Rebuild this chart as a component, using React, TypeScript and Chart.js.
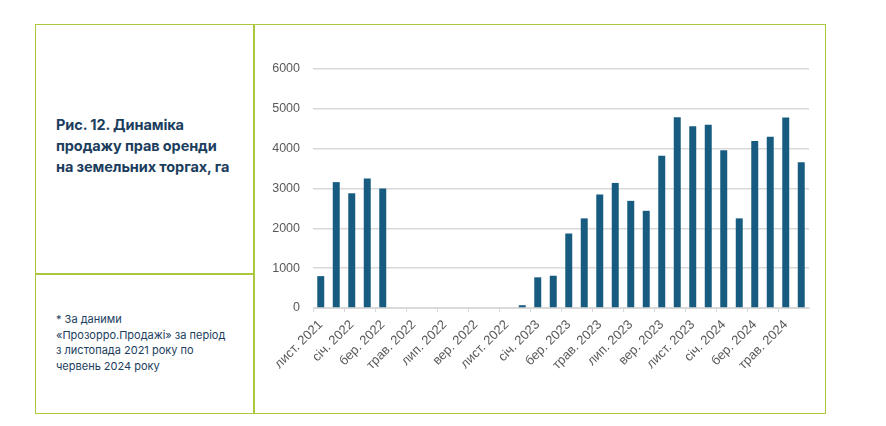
import { useEffect, useRef } from 'react'
import { Chart, registerables } from 'chart.js'

Chart.register(...registerables)

const months = [
  'лист. 2021', 'груд. 2021', 'січ. 2022', 'лют. 2022', 'бер. 2022', 'квіт. 2022',
  'трав. 2022', 'черв. 2022', 'лип. 2022', 'серп. 2022', 'вер. 2022', 'жовт. 2022',
  'лист. 2022', 'груд. 2022', 'січ. 2023', 'лют. 2023', 'бер. 2023', 'квіт. 2023',
  'трав. 2023', 'черв. 2023', 'лип. 2023', 'серп. 2023', 'вер. 2023', 'жовт. 2023',
  'лист. 2023', 'груд. 2023', 'січ. 2024', 'лют. 2024', 'бер. 2024', 'квіт. 2024',
  'трав. 2024', 'черв. 2024',
]

const hectares = [
  800, 3160, 2880, 3250, 3000, 0, 0, 0, 0, 0, 0, 0, 0, 70, 770, 810,
  1870, 2250, 2850, 3140, 2690, 2440, 3820, 4790, 4560, 4600, 3960, 2250,
  4190, 4300, 4780, 3660,
]

const yTicks = [0, 1000, 2000, 3000, 4000, 5000, 6000]

const GREEN = '#a9c83c'
const NAVY = '#1b3d5e'

function LeaseChart() {
  const canvasRef = useRef<HTMLCanvasElement>(null)
  const chartRef = useRef<Chart | null>(null)

  useEffect(() => {
    const canvas = canvasRef.current
    if (!canvas) return
    chartRef.current?.destroy()
    chartRef.current = new Chart(canvas, {
      type: 'bar',
      data: {
        labels: months,
        datasets: [{
          data: hectares,
          backgroundColor: '#175c80',
          borderWidth: 0,
          categoryPercentage: 1,
          barPercentage: 0.45,
        }],
      },
      options: {
        responsive: false,
        animation: false,
        layout: { padding: { left: 0, right: 17, top: 45, bottom: 6 } },
        plugins: { legend: { display: false }, tooltip: { enabled: false } },
        scales: {
          x: {
            afterFit: (s: any) => { s.height = 100 },
            border: { display: true, color: '#d9d9d9' },
            grid: {
              drawOnChartArea: false,
              drawTicks: true,
              tickLength: 4,
              color: (ctx: any) => (ctx.index % 2 === 0 ? '#d9d9d9' : 'rgba(0,0,0,0)'),
            },
            ticks: {
              autoSkip: false,
              maxRotation: 45,
              minRotation: 45,
              padding: 5,
              color: '#595959',
              font: { family: "'Liberation Sans', Arial, sans-serif", size: 13 },
              callback: (_v: any, i: number) => (i % 2 === 0 ? months[i] : ''),
            },
          },
          y: {
            min: yTicks[0],
            max: yTicks[yTicks.length - 1],
            afterFit: (s: any) => { s.width = 59 },
            afterBuildTicks: (s: any) => { s.ticks = yTicks.map((v) => ({ value: v })) },
            border: { display: false },
            grid: { color: '#d9d9d9', drawTicks: false, lineWidth: 1.5 },
            ticks: {
              padding: 13,
              color: '#595959',
              font: { family: "'Liberation Sans', Arial, sans-serif", size: 12.5 },
              callback: (v: any) => String(v),
            },
          },
        },
      },
    })
    return () => { chartRef.current?.destroy() }
  }, [])

  return <canvas ref={canvasRef} width={572} height={390} style={{ display: 'block' }} />
}

export default function App() {
  return (
    <div style={{ position: 'fixed', left: 0, top: 0, width: 886, height: 426, background: '#fff' }}>
      <div
        style={{
          position: 'absolute', left: 35, top: 24, width: 791, height: 390,
          border: `1.5px solid ${GREEN}`, boxSizing: 'border-box',
        }}
      />
      <div style={{ position: 'absolute', left: 253, top: 24, width: 1.5, height: 390, background: GREEN }} />
      <div style={{ position: 'absolute', left: 35, top: 273, width: 219, height: 1.5, background: GREEN }} />
      <div
        style={{
          position: 'absolute', left: 56, top: 114, width: 195,
          fontFamily: "Inter, 'Noto Sans', sans-serif", fontWeight: 700, fontSize: 14.5,
          lineHeight: '21px', color: NAVY, letterSpacing: -0.1,
        }}
      >
        Рис. 12. Динаміка<br />продажу прав оренди<br />на земельних торгах, га
      </div>
      <div
        style={{
          position: 'absolute', left: 56, top: 312, width: 195,
          fontFamily: "Inter, 'Noto Sans', sans-serif", fontSize: 11, lineHeight: '15.5px', color: NAVY,
        }}
      >
        * За даними<br />«Прозорро.Продажі» за період<br />з листопада 2021 року по<br />червень 2024 року
      </div>
      <div style={{ position: 'absolute', left: 254, top: 24 }}>
        <LeaseChart />
      </div>
    </div>
  )
}
